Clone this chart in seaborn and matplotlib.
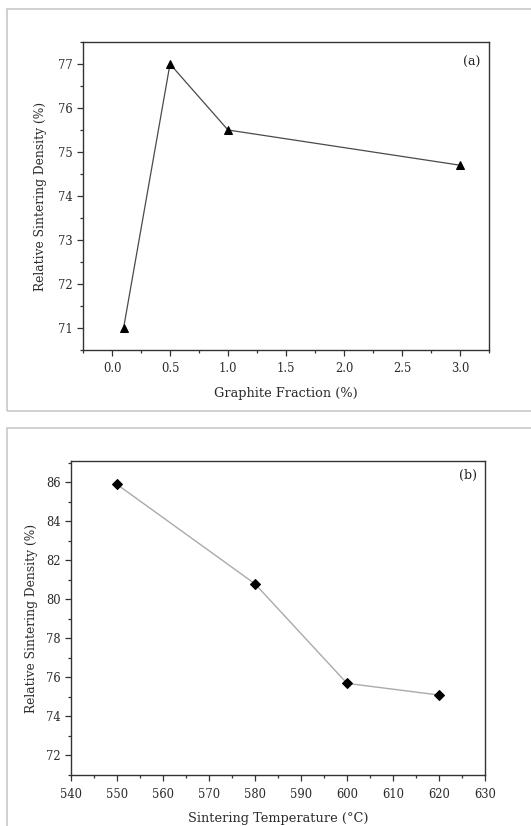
import matplotlib
matplotlib.use("Agg")
import matplotlib.pyplot as plt
import seaborn as sns
import pandas as pd
from matplotlib.patches import Rectangle
from matplotlib.ticker import MultipleLocator

sns.set_theme(style="white")
plt.rcParams['font.family'] = ['DejaVu Serif']

graphite_fraction = [0.1, 0.5, 1.0, 3.0]
density_a = [71.0, 77.0, 75.5, 74.7]
sinter_temp = [550, 580, 600, 620]
density_b = [85.9, 80.8, 75.7, 75.1]

df_a = pd.DataFrame({"x": graphite_fraction, "y": density_a})
df_b = pd.DataFrame({"x": sinter_temp, "y": density_b})

W, H = 531, 826
fig = plt.figure(figsize=(W / 100, H / 100), dpi=100)
fig.patch.set_facecolor("white")

# panel frames
fig.patches.append(Rectangle((7 / W, 1 - 411 / H), (W + 5 - 7) / W, (411 - 9) / H,
                             transform=fig.transFigure, fill=False, ec="#c8c8c8", lw=1.2))
fig.patches.append(Rectangle((7 / W, -0.02), (W + 5 - 7) / W, 1 - 428 / H + 0.02,
                             transform=fig.transFigure, fill=False, ec="#c8c8c8", lw=1.2))

def px_axes(l, t, r, b):
    return fig.add_axes([l / W, 1 - b / H, (r - l) / W, (b - t) / H])

ax1 = px_axes(83, 42, 489, 350)
ax2 = px_axes(71, 461, 485, 775)

sns.lineplot(data=df_a, x="x", y="y", ax=ax1, color="#4a4a4a", lw=0.9,
             marker="^", markersize=6.3, markerfacecolor="black", markeredgecolor="black")
sns.lineplot(data=df_b, x="x", y="y", ax=ax2, color="#aaaaaa", lw=1.0,
             marker="D", markersize=5.3, markerfacecolor="black", markeredgecolor="black")

ax1.set_xlim(-0.25, 3.25)
ax1.set_ylim(70.5, 77.5)
ax1.xaxis.set_major_locator(MultipleLocator(0.5))
ax1.xaxis.set_minor_locator(MultipleLocator(0.25))
ax1.yaxis.set_major_locator(MultipleLocator(1))
ax1.yaxis.set_minor_locator(MultipleLocator(0.5))
ax1.set_xticks([0, 0.5, 1.0, 1.5, 2.0, 2.5, 3.0])
ax1.set_xticklabels(["0.0", "0.5", "1.0", "1.5", "2.0", "2.5", "3.0"])

ax2.set_xlim(540, 630)
ax2.set_ylim(71, 87.1)
ax2.xaxis.set_major_locator(MultipleLocator(10))
ax2.xaxis.set_minor_locator(MultipleLocator(5))
ax2.yaxis.set_major_locator(MultipleLocator(2))
ax2.yaxis.set_minor_locator(MultipleLocator(1))

for ax in (ax1, ax2):
    for s in ax.spines.values():
        s.set_color("#333333")
        s.set_linewidth(1.0)
    ax.tick_params(axis="both", which="major", direction="out", length=4, width=0.9,
                   color="#333333", labelsize=8.3, labelcolor="#2a2a2a", pad=3.5,
                   bottom=True, left=True, top=False, right=False)
    ax.tick_params(axis="x", which="major", pad=5)
    ax.tick_params(axis="both", which="minor", direction="out", length=2.5, width=0.9,
                   color="#333333", bottom=True, left=True, top=False, right=False)

ax1.set_ylabel("Relative Sintering Density (%)", fontsize=8.8, color="#2a2a2a", labelpad=8)
ax2.set_ylabel("Relative Sintering Density (%)", fontsize=8.8, color="#2a2a2a", labelpad=6)
ax1.set_xlabel("Graphite Fraction (%)", fontsize=9.3, color="#2a2a2a", labelpad=8)
ax2.set_xlabel("Sintering Temperature (°C)", fontsize=9.3, color="#2a2a2a", labelpad=8)

ax1.text(0.978, 0.932, "(a)", transform=ax1.transAxes, ha="right", va="center",
         fontsize=9, color="#222222")
ax2.text(0.98, 0.955, "(b)", transform=ax2.transAxes, ha="right", va="center",
         fontsize=9, color="#222222")

fig.savefig("out.png", dpi=100, facecolor="white")
